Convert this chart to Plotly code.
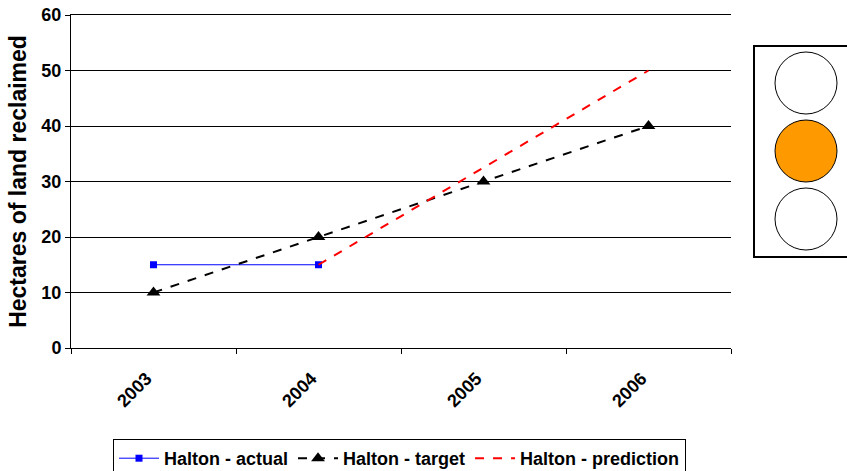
import plotly.graph_objects as go

years = ["2003", "2004", "2005", "2006"]
actual = [15, 15, None, None]
target = [10, 20, 30, 40]
prediction = [None, 15, 32.5, 50]

W, H = 847, 471
L, R, T, B = 71, W - 731, 15, H - 348
pw, ph = W - L - R, H - T - B

def px_x(sx):
    return (sx - L) / pw

def px_y(sy):
    return (H - B - sy) / ph

font = "Liberation Sans, Arial, sans-serif"

fig = go.Figure()
fig.add_trace(go.Scatter(x=years, y=actual, name="Halton - actual", mode="lines+markers",
                         line=dict(color="#0000FF", width=1),
                         marker=dict(symbol="square", size=7, color="#0000FF")))
fig.add_trace(go.Scatter(x=years, y=target, name="Halton - target", mode="lines+markers",
                         line=dict(color="black", width=2, dash="dash"),
                         marker=dict(symbol="triangle-up", size=12, color="black")))
fig.add_trace(go.Scatter(x=years, y=prediction, name="Halton - prediction", mode="lines",
                         line=dict(color="#FF0000", width=2, dash="dash")))

shapes = [dict(type="rect", xref="paper", yref="paper",
               x0=px_x(754), x1=px_x(860), y0=px_y(257), y1=px_y(46),
               line=dict(color="black", width=2), fillcolor="white")]
for cy, fill in [(83, "white"), (151, "#FF9900"), (219, "white")]:
    shapes.append(dict(type="circle", xref="paper", yref="paper",
                       x0=px_x(806 - 31), x1=px_x(806 + 31),
                       y0=px_y(cy + 31), y1=px_y(cy - 31),
                       line=dict(color="black", width=1), fillcolor=fill))

fig.update_layout(
    width=W, height=H,
    margin=dict(l=L, r=R, t=T, b=B, autoexpand=False),
    paper_bgcolor="white", plot_bgcolor="white",
    font=dict(family=font, color="black"),
    showlegend=True,
    legend=dict(orientation="h", x=px_x(113), y=px_y(439), xanchor="left", yanchor="top",
                bordercolor="black", borderwidth=1,
                font=dict(size=18, family=font, weight="bold"),
                itemwidth=40, tracegroupgap=0),
    shapes=shapes,
)
fig.update_xaxes(type="category", range=[-0.5, 3.5], tickson="boundaries", ticks="outside",
                 ticklen=5, tickcolor="black", showline=True, mirror=True,
                 linecolor="black", linewidth=1,
                 showgrid=False, tickangle=-45, automargin=False, ticklabelstandoff=12,
                 ticklabelshift=-7,
                 tickfont=dict(size=18, family=font, weight="bold"))
fig.update_yaxes(range=[0, 60], dtick=10, ticks="outside", ticklen=5, tickcolor="black",
                 showline=True, linecolor="black", linewidth=1, automargin=False,
                 ticklabeloverflow="allow",
                 showgrid=True, gridcolor="black", gridwidth=1, zeroline=False,
                 tickfont=dict(size=18, family=font, weight="bold"),
                 title=dict(text="Hectares of land reclaimed", standoff=8,
                            font=dict(size=23, family=font, weight="bold")))

fig.write_html("out.html", config={"displayModeBar": False},
               post_script="document.body.style.margin='0';document.body.style.overflow='hidden';")
